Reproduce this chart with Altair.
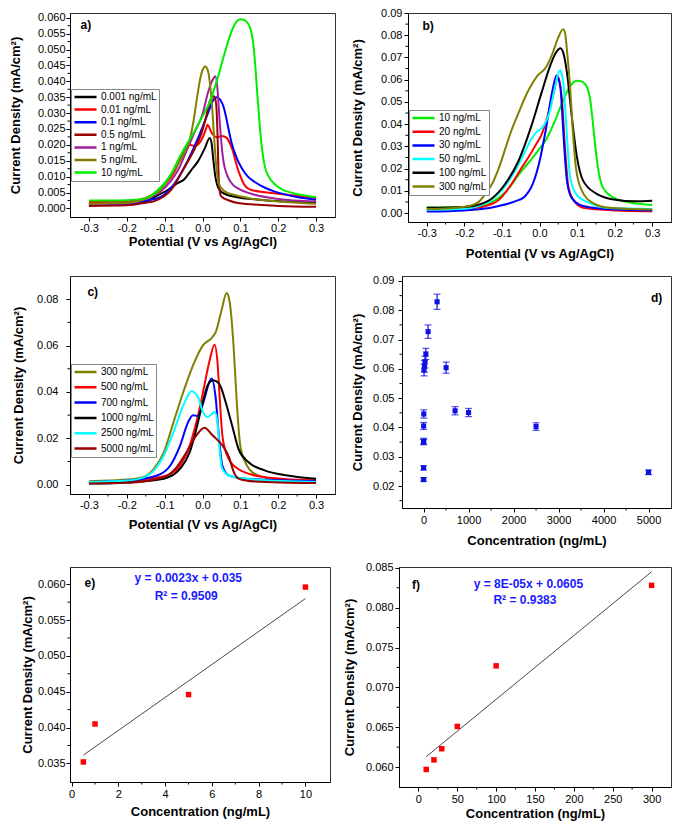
import altair as alt
import pandas as pd

FONT = "Liberation Sans"
YTITLE = "Current Density (mA/cm²)"
XTITLE_V = "Potential (V vs Ag/AgCl)"
XTITLE_C = "Concentration (ng/mL)"
V_TICKS = [-0.3, -0.2, -0.1, 0.0, 0.1, 0.2, 0.3]
V_MINOR = [-0.25, -0.15, -0.05, 0.05, 0.15, 0.25]

# ---------------- panel a (0.001 - 10 ng/mL) ----------------
a_labels = ["0.001 ng/mL", "0.01 ng/mL", "0.1 ng/mL", "0.5 ng/mL", "1 ng/mL", "5 ng/mL", "10 ng/mL"]
a_colors = ["#000000", "#ff0000", "#0000ff", "#990000", "#a020a0", "#808000", "#00ee00"]

a_black_v = [-0.30, -0.20, -0.15, -0.12, -0.092, -0.065, -0.048, -0.030, -0.012, 0.006, 0.019, 0.024, 0.028, 0.034, 0.045, 0.060, 0.085, 0.150, 0.300]
a_black_j = [0.0010, 0.0012, 0.0022, 0.0040, 0.0058, 0.0080, 0.0092, 0.0120, 0.0148, 0.0189, 0.0222, 0.0205, 0.0160, 0.0099, 0.0058, 0.0045, 0.0037, 0.0027, 0.0018]

a_red_v = [-0.30, -0.20, -0.15, -0.109, -0.074, -0.057, -0.044, -0.035, -0.021, -0.0035, 0.0097, 0.0128, 0.0243, 0.0375, 0.0507, 0.064, 0.0771, 0.0947, 0.112, 0.129, 0.190, 0.300]
a_red_j = [0.0020, 0.0022, 0.0033, 0.0065, 0.0116, 0.0162, 0.0192, 0.0200, 0.0197, 0.0214, 0.0252, 0.0263, 0.0238, 0.0224, 0.0228, 0.0222, 0.0191, 0.0119, 0.0072, 0.0058, 0.0048, 0.0033]

a_blue_v = [-0.30, -0.20, -0.15, -0.109, -0.074, -0.039, -0.012, 0.0145, 0.028, 0.0365, 0.046, 0.058, 0.067, 0.076, 0.090, 0.103, 0.120, 0.138, 0.165, 0.191, 0.250, 0.300]
a_blue_j = [0.0012, 0.0014, 0.0024, 0.0037, 0.0078, 0.0150, 0.0220, 0.0300, 0.0340, 0.0350, 0.0343, 0.0310, 0.0260, 0.0210, 0.0160, 0.0128, 0.0100, 0.0083, 0.0065, 0.0053, 0.0036, 0.0027]

a_wine_v = [-0.30, -0.20, -0.15, -0.127, -0.083, -0.052, -0.021, -0.003, 0.010, 0.020, 0.0304, 0.036, 0.040, 0.0425, 0.046, 0.050, 0.070, 0.094, 0.200, 0.300]
a_wine_j = [0.0008, 0.0010, 0.0018, 0.0023, 0.0058, 0.0120, 0.0187, 0.0235, 0.0290, 0.0340, 0.0353, 0.0330, 0.0220, 0.0105, 0.0050, 0.0037, 0.0025, 0.0017, 0.0008, 0.0005]

a_purple_v = [-0.30, -0.20, -0.15, -0.109, -0.065, -0.039, -0.021, 0.001, 0.0145, 0.025, 0.0339, 0.040, 0.045, 0.054, 0.067, 0.080, 0.094, 0.138, 0.200, 0.300]
a_purple_j = [0.0013, 0.0016, 0.0030, 0.0055, 0.0120, 0.0190, 0.0240, 0.0300, 0.0365, 0.0400, 0.0416, 0.0370, 0.0280, 0.0160, 0.0099, 0.0075, 0.0063, 0.0043, 0.0030, 0.0022]

a_olive_v = [-0.30, -0.20, -0.15, -0.109, -0.074, -0.048, -0.034, -0.0245, -0.0165, -0.0075, 0.0, 0.0075, 0.014, 0.020, 0.026, 0.032, 0.038, 0.045, 0.060, 0.080, 0.120, 0.200, 0.300]
a_olive_j = [0.0015, 0.0018, 0.0030, 0.0061, 0.0122, 0.0175, 0.0216, 0.0270, 0.0332, 0.0399, 0.0435, 0.0447, 0.0435, 0.0390, 0.0310, 0.0200, 0.0115, 0.0072, 0.0053, 0.0044, 0.0033, 0.0022, 0.0015]

# 10 ng/mL curve (shown in panels a and b)
green_v = [-0.30, -0.25, -0.20, -0.16, -0.14, -0.12, -0.10, -0.08, -0.06, -0.04, -0.02, 0.00, 0.02, 0.04, 0.06, 0.08, 0.09, 0.10, 0.11, 0.12, 0.128, 0.134, 0.140, 0.146, 0.152, 0.158, 0.165, 0.175, 0.19, 0.21, 0.24, 0.27, 0.30]
green_j = [0.0025, 0.0025, 0.0026, 0.0030, 0.0037, 0.0056, 0.0080, 0.0115, 0.0163, 0.0205, 0.0245, 0.0290, 0.0338, 0.0410, 0.0495, 0.0567, 0.0588, 0.0595, 0.0593, 0.0582, 0.0560, 0.0520, 0.0440, 0.0340, 0.0250, 0.0180, 0.0130, 0.0100, 0.0077, 0.0060, 0.0048, 0.0041, 0.0036]

# ---------------- panel b (10 - 300 ng/mL) ----------------
b_labels = ["10 ng/mL", "20 ng/mL", "30 ng/mL", "50 ng/mL", "100 ng/mL", "300 ng/mL"]
b_colors = ["#00ee00", "#ff0000", "#0000ff", "#00ffff", "#000000", "#808000"]

b_red_v = [-0.30, -0.20, -0.143, -0.108, -0.074, -0.048, -0.026, -0.009, 0.004, 0.021, 0.0384, 0.0496, 0.060, 0.0686, 0.077, 0.090, 0.116, 0.200, 0.300]
b_red_j = [0.0012, 0.0018, 0.0032, 0.0060, 0.0132, 0.0203, 0.0260, 0.0310, 0.0347, 0.0433, 0.0547, 0.0612, 0.0504, 0.0275, 0.0117, 0.0060, 0.0024, 0.0012, 0.0008]

b_blue_v = [-0.30, -0.20, -0.16, -0.108, -0.065, -0.039, -0.0177, 0.0, 0.0168, 0.034, 0.0453, 0.0557, 0.064, 0.073, 0.086, 0.116, 0.200, 0.300]
b_blue_j = [0.0007, 0.0012, 0.0017, 0.0032, 0.0053, 0.0075, 0.0132, 0.0232, 0.0375, 0.0547, 0.0619, 0.0562, 0.0347, 0.0146, 0.0067, 0.0032, 0.0016, 0.0012]

b_cyan_v = [-0.30, -0.20, -0.134, -0.100, -0.065, -0.039, -0.022, -0.009, 0.0, 0.008, 0.018, 0.0255, 0.0427, 0.054, 0.060, 0.064, 0.073, 0.0816, 0.099, 0.133, 0.177, 0.300]
b_cyan_j = [0.0015, 0.0020, 0.0053, 0.0103, 0.0190, 0.0275, 0.0332, 0.0362, 0.0375, 0.0385, 0.0415, 0.0447, 0.0576, 0.0643, 0.0620, 0.0576, 0.0347, 0.0160, 0.0082, 0.0046, 0.0024, 0.0018]

b_black_v = [-0.30, -0.20, -0.16, -0.126, -0.091, -0.0566, -0.022, 0.0039, 0.0298, 0.045, 0.0557, 0.065, 0.073, 0.086, 0.0989, 0.116, 0.150, 0.202, 0.254, 0.300]
b_black_j = [0.0024, 0.0028, 0.0039, 0.0067, 0.0132, 0.0232, 0.0390, 0.0533, 0.0669, 0.0725, 0.0741, 0.0710, 0.0633, 0.0433, 0.0260, 0.0146, 0.0089, 0.0060, 0.0053, 0.0056]

b_olive_v = [-0.30, -0.24, -0.186, -0.16, -0.143, -0.126, -0.108, -0.091, -0.074, -0.0566, -0.039, -0.022, -0.0047, 0.0168, 0.035, 0.050, 0.0626, 0.068, 0.073, 0.0816, 0.0885, 0.097, 0.112, 0.142, 0.185, 0.300]
b_olive_j = [0.0018, 0.0022, 0.0032, 0.0053, 0.0089, 0.0132, 0.0203, 0.0290, 0.0375, 0.0447, 0.0519, 0.0575, 0.0619, 0.0655, 0.0720, 0.0790, 0.0827, 0.0810, 0.0734, 0.0562, 0.0375, 0.0203, 0.0103, 0.0046, 0.0024, 0.0016]

# ---------------- panel c (300 - 5000 ng/mL) ----------------
c_labels = ["300 ng/mL", "500 ng/mL", "700 ng/mL", "1000 ng/mL", "2500 ng/mL", "5000 ng/mL"]
c_colors = ["#808000", "#ff0000", "#0000ff", "#000000", "#00ffff", "#990000"]

c_olive_v = [-0.30, -0.20, -0.154, -0.128, -0.102, -0.0765, -0.0507, -0.025, 0.001, 0.0266, 0.0352, 0.050, 0.0636, 0.069, 0.074, 0.0825, 0.091, 0.0997, 0.1126, 0.138, 0.200, 0.300]
c_olive_j = [0.0015, 0.0022, 0.0035, 0.0069, 0.0141, 0.0270, 0.0400, 0.0515, 0.0601, 0.0637, 0.0659, 0.0750, 0.0827, 0.0810, 0.0760, 0.0587, 0.0342, 0.0170, 0.0098, 0.0047, 0.0022, 0.0013]

c_red_v = [-0.30, -0.20, -0.15, -0.094, -0.059, -0.038, -0.0206, -0.0077, 0.005, 0.018, 0.0318, 0.0395, 0.0456, 0.0524, 0.065, 0.087, 0.138, 0.207, 0.300]
c_red_j = [0.0010, 0.0015, 0.0025, 0.0040, 0.0083, 0.0148, 0.0242, 0.0328, 0.0429, 0.0530, 0.0604, 0.0530, 0.0371, 0.0213, 0.0127, 0.0076, 0.0040, 0.0026, 0.0019]

c_blue_v = [-0.30, -0.20, -0.12, -0.085, -0.059, -0.038, -0.025, -0.012, 0.005, 0.018, 0.024, 0.035, 0.0438, 0.0524, 0.070, 0.120, 0.300]
c_blue_j = [0.0012, 0.0018, 0.0040, 0.0083, 0.0170, 0.0270, 0.0300, 0.0296, 0.0370, 0.0443, 0.0458, 0.0371, 0.0199, 0.0083, 0.0040, 0.0025, 0.0015]

c_black_v = [-0.30, -0.20, -0.102, -0.059, -0.0335, -0.016, 0.001, 0.0138, 0.0284, 0.0438, 0.061, 0.078, 0.095, 0.121, 0.164, 0.224, 0.300]
c_black_j = [0.0005, 0.0010, 0.0026, 0.0069, 0.0141, 0.0242, 0.0357, 0.0429, 0.0450, 0.0436, 0.0357, 0.0256, 0.0155, 0.0098, 0.0062, 0.0040, 0.0026]

c_cyan_v = [-0.30, -0.20, -0.154, -0.128, -0.102, -0.0765, -0.0507, -0.029, -0.012, 0.001, 0.0138, 0.025, 0.0327, 0.0395, 0.0456, 0.0524, 0.070, 0.120, 0.300]
c_cyan_j = [0.0012, 0.0018, 0.0033, 0.0062, 0.0127, 0.0227, 0.0342, 0.0403, 0.0378, 0.0314, 0.0292, 0.0306, 0.0314, 0.0270, 0.0141, 0.0069, 0.0040, 0.0025, 0.0012]

c_wine_v = [-0.30, -0.20, -0.102, -0.068, -0.042, -0.016, 0.005, 0.0266, 0.0524, 0.070, 0.0825, 0.0954, 0.138, 0.300]
c_wine_j = [0.0005, 0.0008, 0.0033, 0.0076, 0.0141, 0.0213, 0.0246, 0.0213, 0.0170, 0.0119, 0.0055, 0.0026, 0.0014, 0.0007]

# ---------------- panel d (peak current vs concentration) ----------------
d_conc = [0.001, 0.01, 0.1, 0.5, 1, 5, 10, 20, 30, 50, 100, 300, 500, 700, 1000, 2500, 5000]
d_j = [0.0222, 0.0262, 0.0350, 0.0353, 0.0405, 0.0446, 0.0596, 0.0609, 0.0623, 0.0651, 0.0727, 0.0829, 0.0604, 0.0457, 0.0451, 0.0403, 0.0247]
d_err = [0.0006, 0.0007, 0.0009, 0.0010, 0.0012, 0.0014, 0.0020, 0.0020, 0.0020, 0.0019, 0.0023, 0.0026, 0.0019, 0.0014, 0.0014, 0.0013, 0.0008]

# ---------------- panel e (linear range 0.5 - 10 ng/mL) ----------------
e_conc = [0.5, 1, 5, 10]
e_j = [0.0352, 0.0405, 0.0446, 0.0596]
e_slope, e_intercept = 0.0023, 0.035
e_fit_x = [0.5, 10]
e_eq = ["y = 0.0023x + 0.035", "R² = 0.9509"]

# ---------------- panel f (linear range 10 - 300 ng/mL) ----------------
f_conc = [10, 20, 30, 50, 100, 300]
f_j = [0.0597, 0.0609, 0.0623, 0.0651, 0.0727, 0.0828]
f_slope, f_intercept = 8e-05, 0.0605
f_fit_x = [10, 300]
f_eq = ["y = 8E-05x + 0.0605", "R² = 0.9383"]


def make_df(series):
    rows = []
    for name, vs, js in series:
        for v, j in zip(vs, js):
            rows.append({"V": v, "J": j, "s": name})
    return pd.DataFrame(rows)


def minor_x(vals, xs, xax, h):
    return alt.Chart(pd.DataFrame({"mx": vals})).mark_rule(color="black", strokeWidth=1).encode(
        x=alt.X("mx:Q", scale=xs, axis=xax), y=alt.value(h), y2=alt.value(h + 2.5))


def minor_y(vals, ys, yax):
    return alt.Chart(pd.DataFrame({"my": vals})).mark_rule(color="black", strokeWidth=1).encode(
        y=alt.Y("my:Q", scale=ys, axis=yax), x=alt.value(0), x2=alt.value(-2.5))


def tag_layer(text, xv, yv, xs, ys, xax, yax, size=12):
    return alt.Chart(pd.DataFrame({"tx": [xv], "ty": [yv], "t": [text]})).mark_text(
        font=FONT, fontSize=size, fontWeight="bold", color="black").encode(
        x=alt.X("tx:Q", scale=xs, axis=xax), y=alt.Y("ty:Q", scale=ys, axis=yax), text="t:N")


def y_axis(vals, fmt, h, lp, tx):
    return alt.Axis(values=vals, format=fmt, title=YTITLE, labelPadding=lp,
                    titleX=tx, titleY=h / 2)


def x_axis(vals, fmt, title, w, lp, ty):
    return alt.Axis(values=vals, format=fmt, title=title, labelPadding=lp,
                    titleX=w / 2, titleY=ty)


def curve_panel(series, labels, colors, ydom, yvals, yfmt, yminor, w, h, leg_y, row_pad,
                tag, tag_v, tag_j, ylp, ytx, xty):
    df = make_df(series)
    xs = alt.Scale(domain=[-0.35, 0.35], nice=False, zero=False)
    ys = alt.Scale(domain=ydom, nice=False, zero=False)
    xax = x_axis(V_TICKS, ".1f", XTITLE_V, w, 1, xty)
    yax = y_axis(yvals, yfmt, h, ylp, ytx)
    lines = alt.Chart(df).mark_line(strokeWidth=2, interpolate="monotone").encode(
        x=alt.X("V:Q", scale=xs, axis=xax),
        y=alt.Y("J:Q", scale=ys, axis=yax),
        color=alt.Color("s:N", scale=alt.Scale(domain=labels, range=colors),
                        legend=alt.Legend(title=None, orient="none", legendX=1, legendY=leg_y,
                                          symbolType="stroke", symbolSize=484, symbolStrokeWidth=2.5,
                                          clipHeight=12, labelFont=FONT, labelFontSize=10,
                                          labelColor="black", labelOffset=3, rowPadding=row_pad,
                                          strokeColor="#888888", fillColor="white", padding=2)),
    )
    return alt.layer(
        lines,
        minor_x(V_MINOR, xs, xax, h),
        minor_y(yminor, ys, yax),
        tag_layer(tag, tag_v, tag_j, xs, ys, xax, yax),
    ).properties(width=w, height=h)


pa = curve_panel(
    [("0.001 ng/mL", a_black_v, a_black_j), ("0.01 ng/mL", a_red_v, a_red_j),
     ("0.1 ng/mL", a_blue_v, a_blue_j), ("0.5 ng/mL", a_wine_v, a_wine_j),
     ("1 ng/mL", a_purple_v, a_purple_j), ("5 ng/mL", a_olive_v, a_olive_j),
     ("10 ng/mL", green_v, green_j)],
    a_labels, a_colors, [-0.0027, 0.0615],
    [0.0, 0.005, 0.01, 0.015, 0.02, 0.025, 0.03, 0.035, 0.04, 0.045, 0.05, 0.055, 0.06], ".3f",
    [0.0025 + 0.005 * i for i in range(12)], 265, 204, 76, 0.6, "a)", -0.308, 0.0577, 1, -48, 18.5)

pb = curve_panel(
    [("10 ng/mL", green_v, green_j), ("20 ng/mL", b_red_v, b_red_j),
     ("30 ng/mL", b_blue_v, b_blue_j), ("50 ng/mL", b_cyan_v, b_cyan_j),
     ("100 ng/mL", b_black_v, b_black_j), ("300 ng/mL", b_olive_v, b_olive_j)],
    b_labels, b_colors, [-0.004, 0.09],
    [0.0, 0.01, 0.02, 0.03, 0.04, 0.05, 0.06, 0.07, 0.08, 0.09], ".2f",
    [0.005 + 0.01 * i for i in range(9)], 263, 209, 97, 1.7, "b)", -0.2966, 0.0841, 2, -44, 25.5)

pc = curve_panel(
    [("300 ng/mL", c_olive_v, c_olive_j), ("500 ng/mL", c_red_v, c_red_j),
     ("700 ng/mL", c_blue_v, c_blue_j), ("1000 ng/mL", c_black_v, c_black_j),
     ("2500 ng/mL", c_cyan_v, c_cyan_j), ("5000 ng/mL", c_wine_v, c_wine_j)],
    c_labels, c_colors, [-0.004, 0.09],
    [0.0, 0.02, 0.04, 0.06, 0.08], ".2f",
    [0.01, 0.03, 0.05, 0.07], 265, 218, 88, 3.3, "c)", -0.29, 0.0829, 8, -45, 24.5)

# ---- panel d ----
D_W, D_H = 269, 232
d_xs = alt.Scale(domain=[-480, 5500], nice=False, zero=False)
d_ys = alt.Scale(domain=[0.0125, 0.0917], nice=False, zero=False)
d_xax = x_axis([0, 1000, 2000, 3000, 4000, 5000], "d", XTITLE_C, D_W, 2, 26.5)
d_yax = y_axis([0.02, 0.03, 0.04, 0.05, 0.06, 0.07, 0.08, 0.09], ".2f", D_H, 4, -38)
d_df = pd.DataFrame({"c": d_conc, "j": d_j, "e": d_err})
d_df["lo"] = d_df["j"] - d_df["e"]
d_df["hi"] = d_df["j"] + d_df["e"]
d_base = alt.Chart(d_df)
d_rule = d_base.mark_rule(color="#1010e0", strokeWidth=1.2).encode(
    x=alt.X("c:Q", scale=d_xs, axis=d_xax), y=alt.Y("lo:Q", scale=d_ys, axis=d_yax), y2="hi:Q")
d_cap_lo = d_base.mark_tick(color="#1010e0", orient="horizontal", size=7, thickness=1.2).encode(
    x=alt.X("c:Q", scale=d_xs, axis=d_xax), y=alt.Y("lo:Q", scale=d_ys, axis=d_yax))
d_cap_hi = d_base.mark_tick(color="#1010e0", orient="horizontal", size=7, thickness=1.2).encode(
    x=alt.X("c:Q", scale=d_xs, axis=d_xax), y=alt.Y("hi:Q", scale=d_ys, axis=d_yax))
d_pts = d_base.mark_square(color="#1010e0", size=26, opacity=1).encode(
    x=alt.X("c:Q", scale=d_xs, axis=d_xax), y=alt.Y("j:Q", scale=d_ys, axis=d_yax))
pd_ = alt.layer(
    d_rule, d_cap_lo, d_cap_hi, d_pts,
    minor_x([500, 1500, 2500, 3500, 4500], d_xs, d_xax, D_H),
    minor_y([0.015 + 0.01 * i for i in range(8)], d_ys, d_yax),
    tag_layer("d)", 5179, 0.0843, d_xs, d_ys, d_xax, d_yax),
).properties(width=D_W, height=D_H)


def fit_panel(conc, jv, slope, intercept, fit_x, eq, xdom, ydom, xvals, xminor, yvals, yminor,
              w, h, eq_pos, tag, tag_xy, ylp, ytx, xty):
    xs = alt.Scale(domain=xdom, nice=False, zero=False)
    ys = alt.Scale(domain=ydom, nice=False, zero=False)
    xax = x_axis(xvals, "d", XTITLE_C, w, 2, xty)
    yax = y_axis(yvals, ".3f", h, ylp, ytx)
    fit = alt.Chart(pd.DataFrame({"fx": fit_x})).transform_calculate(
        fy=f"{slope} * datum.fx + {intercept}").mark_line(color="#333333", strokeWidth=0.9).encode(
        x=alt.X("fx:Q", scale=xs, axis=xax), y=alt.Y("fy:Q", scale=ys, axis=yax))
    pts = alt.Chart(pd.DataFrame({"c": conc, "j": jv})).mark_square(
        color="#ff0000", size=30, opacity=1).encode(
        x=alt.X("c:Q", scale=xs, axis=xax), y=alt.Y("j:Q", scale=ys, axis=yax))
    eq_df = pd.DataFrame({"ex": [eq_pos[0], eq_pos[2]], "ey": [eq_pos[1], eq_pos[3]], "t": eq})
    eqs = alt.Chart(eq_df).mark_text(font=FONT, fontSize=12, fontWeight="bold", color="#1a1aff").encode(
        x=alt.X("ex:Q", scale=xs, axis=xax), y=alt.Y("ey:Q", scale=ys, axis=yax), text="t:N")
    return alt.layer(
        fit, pts, eqs,
        minor_x(xminor, xs, xax, h),
        minor_y(yminor, ys, yax),
        tag_layer(tag, tag_xy[0], tag_xy[1], xs, ys, xax, yax),
    ).properties(width=w, height=h)


pe = fit_panel(e_conc, e_j, e_slope, e_intercept, e_fit_x, e_eq, [-0.07, 11.05], [0.0324, 0.0624],
               [0, 2, 4, 6, 8, 10], [1, 3, 5, 7, 9],
               [0.035, 0.04, 0.045, 0.05, 0.055, 0.06], [0.0375, 0.0425, 0.0475, 0.0525, 0.0575],
               260, 215, [4.99, 0.0608, 4.9, 0.0584], "e)", [0.78, 0.0601], 1, -36, 23)

pf = fit_panel(f_conc, f_j, f_slope, f_intercept, f_fit_x, f_eq, [-25, 325], [0.0575, 0.0851],
               [0, 50, 100, 150, 200, 250, 300], [25, 75, 125, 175, 225, 275],
               [0.06, 0.065, 0.07, 0.075, 0.08, 0.085], [0.0625, 0.0675, 0.0725, 0.0775, 0.0825],
               272, 220, [141.5, 0.0830, 137, 0.0810], "f)", [-3, 0.0829], 2, -43, 20)

row1 = alt.hconcat(pa, pb, spacing=14).resolve_scale(color="independent").resolve_legend(color="independent")
row2 = alt.hconcat(pc, pd_, spacing=14).resolve_scale(color="independent").resolve_legend(color="independent")
row3 = alt.hconcat(pe, pf, spacing=11)

chart = alt.vconcat(row1, row2, row3, spacing=13).resolve_scale(
    color="independent").resolve_legend(color="independent").properties(
    padding={"left": 0, "top": -2, "right": 0, "bottom": 0}, background="white"
).configure(
    locale={"number": {"decimal": ".", "thousands": ",", "grouping": [3],
                       "currency": ["$", ""], "minus": "-"}}
).configure_axis(
    labelFont=FONT, labelFontSize=11, labelColor="black",
    titleFont=FONT, titleFontSize=13, titleFontWeight="bold", titleColor="black",
    domainColor="black", tickColor="black", tickSize=4, grid=False, domainWidth=1, tickWidth=1
).configure_view(stroke="#333333", strokeWidth=1)

chart.save("out.html", embed_options={"renderer": "svg", "actions": False})
